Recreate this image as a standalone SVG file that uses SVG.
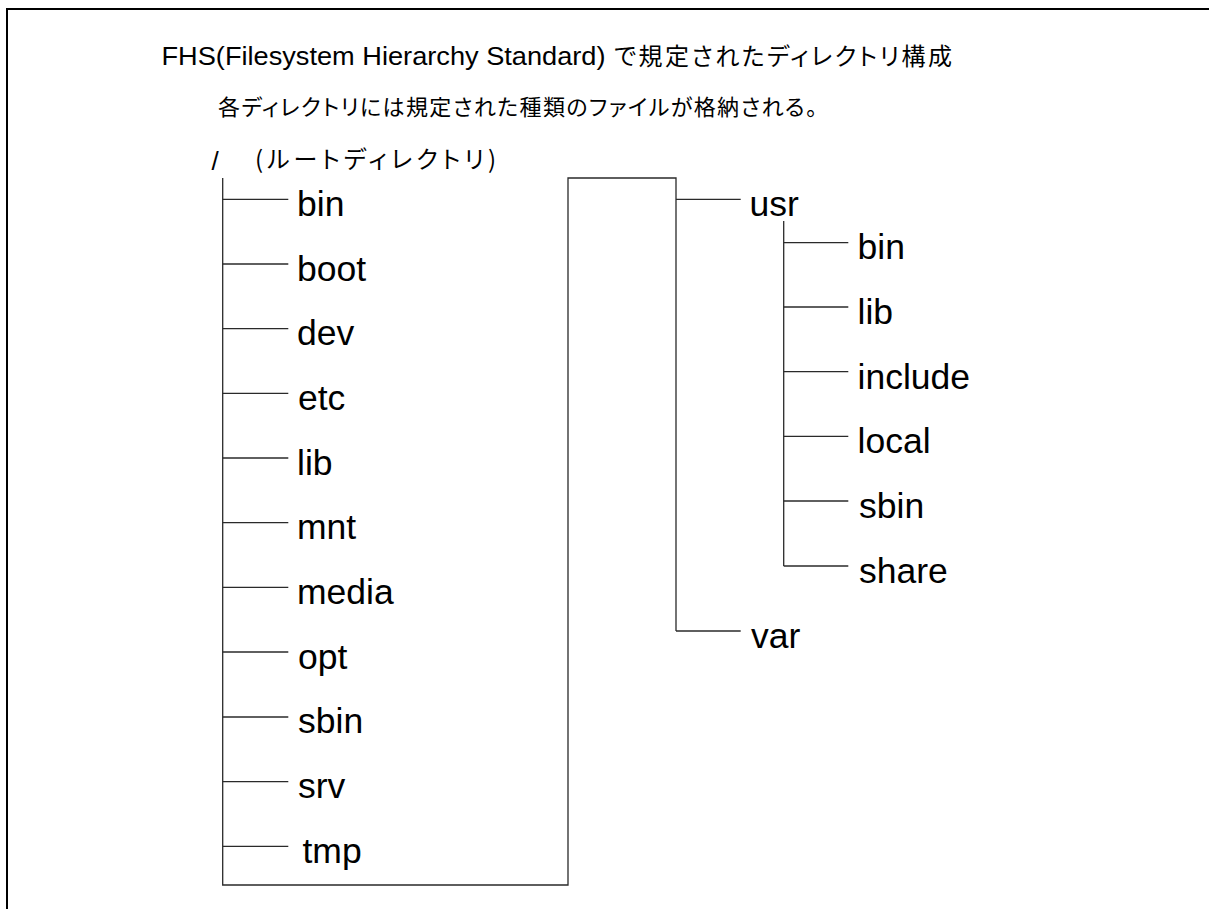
<svg xmlns="http://www.w3.org/2000/svg" width="1209" height="909" viewBox="0 0 1209 909">
  <style>
    .frame { fill: #ffffff; stroke: #000000; stroke-width: 2; }
    .wire { fill: none; stroke: #2a2a2a; stroke-width: 1.3; }
    .lbl { font-family: "Liberation Sans", Arial, sans-serif; font-size: 35.5px; fill: #000000; }
    .jp { font-family: "Noto Sans CJK JP", "Liberation Sans", sans-serif; fill: #000000; font-feature-settings: "palt"; }
    .lat { font-family: "Liberation Sans", Arial, "Noto Sans CJK JP", sans-serif; fill: #000000; }
  </style>

  <!-- outer frame (runs past the right and bottom edges) -->
  <rect class="frame" x="7" y="9" width="1230" height="930"/>

  <!-- heading -->
  <g id="heading">
    <text class="lat" x="161.5" y="64.5" font-size="25" textLength="444" lengthAdjust="spacingAndGlyphs">FHS(Filesystem Hierarchy Standard)</text>
    <text class="jp" x="614" y="65" font-size="24" textLength="338" lengthAdjust="spacing">で規定されたディレクトリ構成</text>
  </g>
  <g id="subheading">
    <text class="jp" x="218" y="114.5" font-size="22" textLength="599" lengthAdjust="spacing">各ディレクトリには規定された種類のファイルが格納される。</text>
  </g>

  <!-- tree connectors -->
  <g id="connectors" class="wire">
    <!-- root trunk and bend over to the second column -->
    <polyline points="222.7,178 222.7,885 568,885 568,178 676,178 676,631"/>
    <!-- root children -->
    <line x1="222.7" y1="199.3" x2="288.3" y2="199.3"/>
    <line x1="222.7" y1="264" x2="288.3" y2="264"/>
    <line x1="222.7" y1="328.7" x2="288.3" y2="328.7"/>
    <line x1="222.7" y1="393.4" x2="288.3" y2="393.4"/>
    <line x1="222.7" y1="458" x2="288.3" y2="458"/>
    <line x1="222.7" y1="522.7" x2="288.3" y2="522.7"/>
    <line x1="222.7" y1="587.4" x2="288.3" y2="587.4"/>
    <line x1="222.7" y1="652" x2="288.3" y2="652"/>
    <line x1="222.7" y1="717" x2="288.3" y2="717"/>
    <line x1="222.7" y1="781.7" x2="288.3" y2="781.7"/>
    <line x1="222.7" y1="846.3" x2="288.3" y2="846.3"/>
    <!-- usr and var -->
    <line x1="676" y1="199.3" x2="740.7" y2="199.3"/>
    <line x1="676" y1="631" x2="740.7" y2="631"/>
    <!-- usr children -->
    <line x1="783.7" y1="221" x2="783.7" y2="566"/>
    <line x1="783.7" y1="242.7" x2="848.3" y2="242.7"/>
    <line x1="783.7" y1="307" x2="848.3" y2="307"/>
    <line x1="783.7" y1="371.7" x2="848.3" y2="371.7"/>
    <line x1="783.7" y1="436.4" x2="848.3" y2="436.4"/>
    <line x1="783.7" y1="501" x2="848.3" y2="501"/>
    <line x1="783.7" y1="566" x2="848.3" y2="566"/>
  </g>

  <!-- root directory -->
  <g id="root">
    <text class="lat" x="211.5" y="170" font-size="26">/</text>
    <text class="jp" x="255" y="168" font-size="24" textLength="241" lengthAdjust="spacing">(ルートディレクトリ)</text>
  </g>

  <!-- first level -->
  <g id="bin"><text class="lbl" x="297" y="216">bin</text></g>
  <g id="boot"><text class="lbl" x="297" y="280.7">boot</text></g>
  <g id="dev"><text class="lbl" x="297" y="345.4">dev</text></g>
  <g id="etc"><text class="lbl" x="298" y="410">etc</text></g>
  <g id="lib"><text class="lbl" x="297" y="474.7">lib</text></g>
  <g id="mnt"><text class="lbl" x="297" y="539.4">mnt</text></g>
  <g id="media"><text class="lbl" x="297" y="604">media</text></g>
  <g id="opt"><text class="lbl" x="298" y="668.7">opt</text></g>
  <g id="sbin"><text class="lbl" x="298" y="733.4">sbin</text></g>
  <g id="srv"><text class="lbl" x="298" y="798">srv</text></g>
  <g id="tmp"><text class="lbl" x="302.5" y="862.7">tmp</text></g>

  <g id="usr"><text class="lbl" x="749.5" y="216">usr</text></g>
  <g id="var"><text class="lbl" x="751" y="647.7">var</text></g>

  <!-- under usr -->
  <g id="usr-bin"><text class="lbl" x="857.6" y="259.4">bin</text></g>
  <g id="usr-lib"><text class="lbl" x="857.6" y="324">lib</text></g>
  <g id="usr-include"><text class="lbl" x="857.6" y="388.7">include</text></g>
  <g id="usr-local"><text class="lbl" x="857.6" y="453.4">local</text></g>
  <g id="usr-sbin"><text class="lbl" x="859" y="518">sbin</text></g>
  <g id="usr-share"><text class="lbl" x="859" y="582.7">share</text></g>
</svg>
